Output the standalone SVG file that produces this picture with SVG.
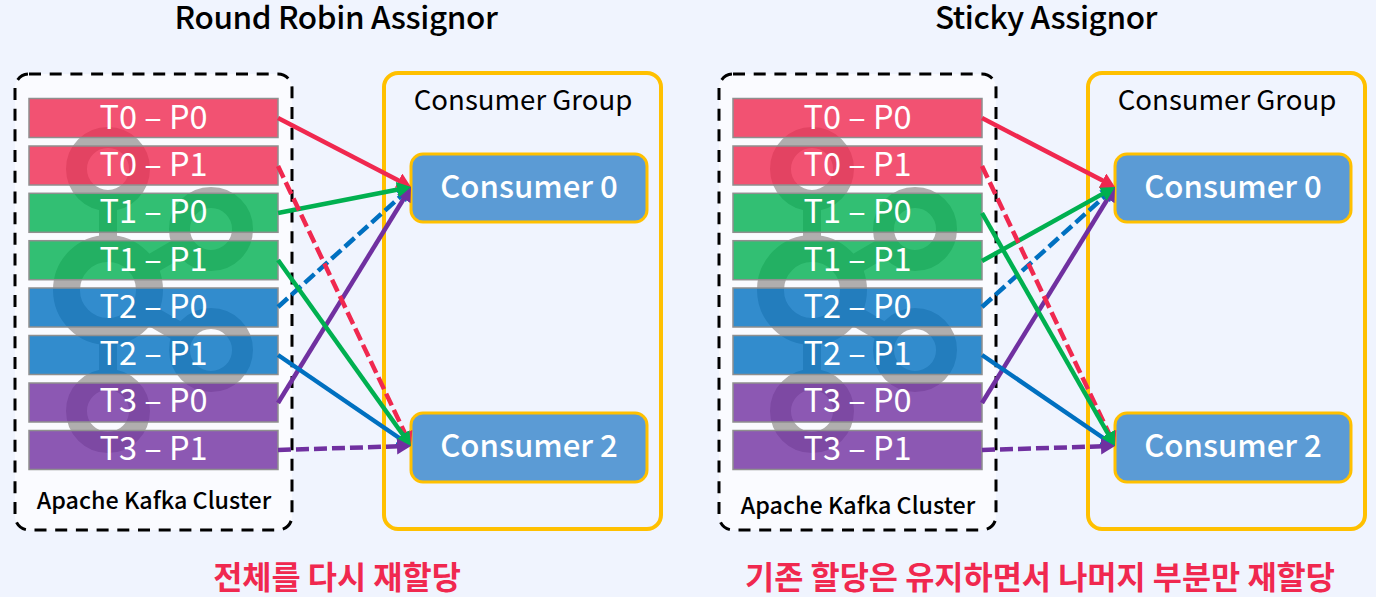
<svg xmlns="http://www.w3.org/2000/svg" xmlns:xlink="http://www.w3.org/1999/xlink" width="1376" height="597" viewBox="0 0 1376 597">
<style>
text{font-family:"Noto Sans CJK KR","Noto Sans",sans-serif;text-anchor:middle}
.title{font-size:31.500px;font-weight:500;letter-spacing:-.4px;fill:#000}
.cluster{fill:#fafbff;stroke:#000;stroke-width:3;stroke-dasharray:12 8.700}
.clabel{font-size:23.300px;font-weight:500;fill:#000}
.group{fill:none;stroke:#ffc000;stroke-width:4}
.glabel{font-size:27.600px;fill:#000}
.bar{stroke:#8f8f8f;stroke-width:1.500}
.rb{fill:#f0284f;fill-opacity:.8}.gb{fill:#00b050;fill-opacity:.8}.bb{fill:#0070c0;fill-opacity:.8}.pb{fill:#7030a0;fill-opacity:.8}
.bl{font-size:32.500px;fill:#fff}
.cons{fill:#5b9bd5;stroke:#ffc000;stroke-width:3}
.cl{font-size:31.200px;font-weight:500;fill:#fff}
.note{font-size:31.700px;font-weight:700;fill:#f0284f}
.ln{fill:none;stroke-width:4.500}
.d{stroke-dasharray:13 5}
.sr{stroke:#f0284f}.sg{stroke:#00b050}.sb{stroke:#0070c0}.sp{stroke:#7030a0}
.logo circle,.logo path{fill:none;stroke:#b0aeae}
</style>
<defs>
<marker id="mr" markerUnits="userSpaceOnUse" markerWidth="15" markerHeight="17" refX="6" refY="8" orient="auto"><path d="M0 0L14 8L0 16z" fill="#f0284f"/></marker>
<marker id="mg" markerUnits="userSpaceOnUse" markerWidth="15" markerHeight="17" refX="6" refY="8" orient="auto"><path d="M0 0L14 8L0 16z" fill="#00b050"/></marker>
<marker id="mb" markerUnits="userSpaceOnUse" markerWidth="15" markerHeight="17" refX="6" refY="8" orient="auto"><path d="M0 0L14 8L0 16z" fill="#0070c0"/></marker>
<marker id="mp" markerUnits="userSpaceOnUse" markerWidth="15" markerHeight="17" refX="6" refY="8" orient="auto"><path d="M0 0L14 8L0 16z" fill="#7030a0"/></marker>
<g id="kafka" class="logo">
<path d="M108 200V240M108 340V380" stroke-width="18"/>
<path d="M148 266L186 244M148 314L186 336" stroke-width="20"/>
<circle cx="108" cy="169" r="31.500" stroke-width="21"/>
<circle cx="211" cy="229" r="31.500" stroke-width="21"/>
<circle cx="108" cy="290" r="41.500" stroke-width="27"/>
<circle cx="211" cy="350" r="31.500" stroke-width="21"/>
<circle cx="108" cy="411" r="31.500" stroke-width="21"/>
</g>
</defs>
<rect width="1376" height="597" fill="#f0f4fe"/>

<g id="left-title"><text class="title" x="336" y="29">Round Robin Assignor</text></g>
<g id="left-cluster">
<rect class="cluster" x="15" y="74" width="277" height="456" rx="14"/>
<use href="#kafka"/>
<text class="clabel" x="154" y="509">Apache Kafka Cluster</text>
</g>
<g id="left-group">
<rect class="group" x="384" y="73" width="277" height="456" rx="14"/>
<text class="glabel" x="523" y="110">Consumer Group</text>
</g>
<g id="l-t0p0"><rect class="bar rb" x="29" y="98.500" width="249" height="39"/><text class="bl" x="153.500" y="129">T0 – P0</text></g>
<g id="l-t0p1"><rect class="bar rb" x="29" y="146" width="249" height="39"/><text class="bl" x="153.500" y="176">T0 – P1</text></g>
<g id="l-t1p0"><rect class="bar gb" x="29" y="193.300" width="249" height="39"/><text class="bl" x="153.500" y="223">T1 – P0</text></g>
<g id="l-t1p1"><rect class="bar gb" x="29" y="240.700" width="249" height="39"/><text class="bl" x="153.500" y="271">T1 – P1</text></g>
<g id="l-t2p0"><rect class="bar bb" x="29" y="288" width="249" height="39"/><text class="bl" x="153.500" y="318">T2 – P0</text></g>
<g id="l-t2p1"><rect class="bar bb" x="29" y="335.500" width="249" height="39"/><text class="bl" x="153.500" y="365">T2 – P1</text></g>
<g id="l-t3p0"><rect class="bar pb" x="29" y="383" width="249" height="39"/><text class="bl" x="153.500" y="412">T3 – P0</text></g>
<g id="l-t3p1"><rect class="bar pb" x="29" y="430.500" width="249" height="39"/><text class="bl" x="153.500" y="460">T3 – P1</text></g>
<g id="l-consumer0"><rect class="cons" x="411" y="154" width="236" height="68" rx="12"/><text class="cl" x="529" y="198">Consumer 0</text></g>
<g id="l-consumer2"><rect class="cons" x="411" y="413" width="236" height="69" rx="12"/><text class="cl" x="529" y="457">Consumer 2</text></g>
<g id="l-note"><text class="note" x="337" y="589">전체를 다시 재할당</text></g>

<g id="right-title"><text class="title" x="1046" y="29">Sticky Assignor</text></g>
<g id="right-cluster">
<rect class="cluster" x="719" y="74" width="277" height="456" rx="14"/>
<use href="#kafka" x="704"/>
<text class="clabel" x="858" y="514">Apache Kafka Cluster</text>
</g>
<g id="right-group">
<rect class="group" x="1088" y="73" width="277" height="456" rx="14"/>
<text class="glabel" x="1227" y="110">Consumer Group</text>
</g>
<g id="r-t0p0"><rect class="bar rb" x="733" y="98.500" width="249" height="39"/><text class="bl" x="857.500" y="129">T0 – P0</text></g>
<g id="r-t0p1"><rect class="bar rb" x="733" y="146" width="249" height="39"/><text class="bl" x="857.500" y="176">T0 – P1</text></g>
<g id="r-t1p0"><rect class="bar gb" x="733" y="193.300" width="249" height="39"/><text class="bl" x="857.500" y="223">T1 – P0</text></g>
<g id="r-t1p1"><rect class="bar gb" x="733" y="240.700" width="249" height="39"/><text class="bl" x="857.500" y="271">T1 – P1</text></g>
<g id="r-t2p0"><rect class="bar bb" x="733" y="288" width="249" height="39"/><text class="bl" x="857.500" y="318">T2 – P0</text></g>
<g id="r-t2p1"><rect class="bar bb" x="733" y="335.500" width="249" height="39"/><text class="bl" x="857.500" y="365">T2 – P1</text></g>
<g id="r-t3p0"><rect class="bar pb" x="733" y="383" width="249" height="39"/><text class="bl" x="857.500" y="412">T3 – P0</text></g>
<g id="r-t3p1"><rect class="bar pb" x="733" y="430.500" width="249" height="39"/><text class="bl" x="857.500" y="460">T3 – P1</text></g>
<g id="r-consumer0"><rect class="cons" x="1115" y="154" width="236" height="68" rx="12"/><text class="cl" x="1233" y="198">Consumer 0</text></g>
<g id="r-consumer2"><rect class="cons" x="1115" y="413" width="236" height="69" rx="12"/><text class="cl" x="1233" y="457">Consumer 2</text></g>
<g id="r-note"><text class="note" x="1040" y="589">기존 할당은 유지하면서 나머지 부분만 재할당</text></g>

<g id="connectors">
<path class="ln d sb" d="M278 307L405.100 192.400" marker-end="url(#mb)"/>
<path class="ln sp" d="M278 403L406.800 193.800" marker-end="url(#mp)"/>
<path class="ln sr" d="M278 118L403.900 183.300" marker-end="url(#mr)"/>
<path class="ln sg" d="M278 213L403.200 188.500" marker-end="url(#mg)"/>
<path class="ln d sr" d="M278 166L407.600 438.800" marker-end="url(#mr)"/>
<path class="ln sb" d="M278 355L404.400 441.500" marker-end="url(#mb)"/>
<path class="ln sg" d="M278 260L406.300 439.500" marker-end="url(#mg)"/>
<path class="ln d sp" d="M278 450L403 446.200" marker-end="url(#mp)"/>

<path class="ln d sb" d="M982 307L1109.100 192.400" marker-end="url(#mb)"/>
<path class="ln sp" d="M982 403L1110.800 193.800" marker-end="url(#mp)"/>
<path class="ln sg" d="M982 261L1108 190.900" marker-end="url(#mg)"/>
<path class="ln sr" d="M982 118L1107.900 183.300" marker-end="url(#mr)"/>
<path class="ln d sr" d="M982 166L1111.600 438.800" marker-end="url(#mr)"/>
<path class="ln sb" d="M982 355L1108.400 441.500" marker-end="url(#mb)"/>
<path class="ln sg" d="M982 213L1111 439" marker-end="url(#mg)"/>
<path class="ln d sp" d="M982 450L1107 446.200" marker-end="url(#mp)"/>
</g>
</svg>
